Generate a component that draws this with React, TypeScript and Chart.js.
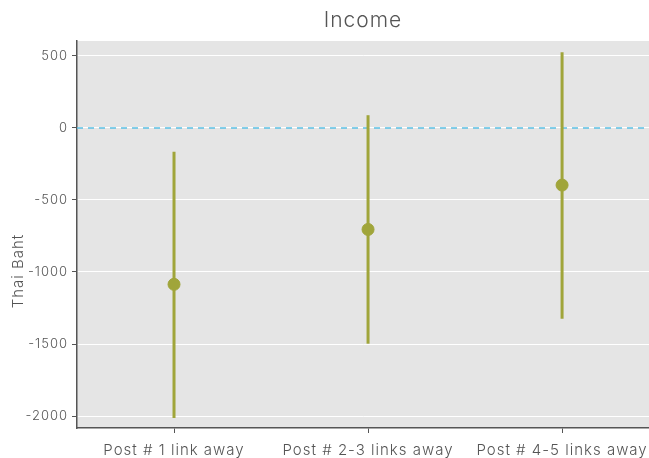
import React, { useEffect, useRef } from "react";
import { Chart, registerables } from "chart.js";

Chart.register(...registerables);

const categories = ["Post # 1 link away", "Post # 2-3 links away", "Post # 4-5 links away"];
const estimates = [-1086, -705, -397];
const lowerBounds = [-2013, -1498, -1325];
const upperBounds = [-166, 88, 525];
const yTicks = [500, 0, -500, -1000, -1500, -2000];
const yTitle = "Thai Baht";
const chartTitle = "Income";

const OLIVE = "#A0A53A";
const FONT = "Inter, 'Open Sans', sans-serif";
const TEXT = "#555555";

const panelBg = {
  id: "panelBg",
  beforeDraw(chart: any) {
    const { ctx, chartArea } = chart;
    (ctx as any).letterSpacing = "1px";
    ctx.save();
    ctx.fillStyle = "#E5E5E5";
    ctx.fillRect(chartArea.left, chartArea.top, chartArea.right - chartArea.left, chartArea.bottom - chartArea.top);
    ctx.restore();
  },
  afterDraw(chart: any) {
    const { ctx, chartArea } = chart;
    ctx.save();
    ctx.fillStyle = TEXT;
    ctx.font = `300 15px ${FONT}`;
    ctx.textAlign = "center";
    ctx.textBaseline = "middle";
    ctx.translate(18, chartArea.top + 230);
    ctx.rotate(-Math.PI / 2);
    ctx.fillText(yTitle, 0, 0);
    ctx.restore();
  },
};

export default function App() {
  const ref = useRef<HTMLCanvasElement>(null);
  useEffect(() => {
    document.body.style.margin = "0";
    const errorSets = categories.map((_, i) => ({
      type: "line" as const,
      data: [
        { x: i, y: lowerBounds[i] },
        { x: i, y: upperBounds[i] },
      ],
      borderColor: OLIVE,
      borderWidth: 3,
      pointRadius: 0,
      showLine: true,
      order: 2,
    }));
    const chart = new Chart(ref.current!, {
      type: "scatter",
      data: {
        datasets: [
          {
            type: "line",
            data: [
              { x: -0.5, y: 0 },
              { x: 2.448, y: 0 },
            ],
            borderColor: "#5BC0E3",
            borderWidth: 1.5,
            borderDash: [6, 5],
            pointRadius: 0,
            showLine: true,
            order: 3,
          } as any,
          ...errorSets,
          {
            data: estimates.map((v, i) => ({ x: i, y: v })),
            backgroundColor: OLIVE,
            borderColor: OLIVE,
            pointRadius: 6,
            order: 1,
          },
        ],
      },
      options: {
        animation: false,
        responsive: false,
        layout: { padding: 0, autoPadding: false },
        plugins: {
          legend: { display: false },
          tooltip: { enabled: false },
          title: { display: false },
        },
        scales: {
          x: {
            type: "linear",
            min: -0.5,
            max: 2.448,
            afterBuildTicks: (s: any) => {
              s.ticks = categories.map((_, i) => ({ value: i }));
            },
            afterFit: (s: any) => {
              s.height = 30;
              s.paddingLeft = 0;
              s.paddingRight = 0;
            },
            ticks: {
              callback: (v: any) => categories[v as number] ?? "",
              color: TEXT,
              font: { family: FONT, size: 15, weight: 300 },
              padding: 8,
              maxRotation: 0,
              autoSkip: false,
            },
            grid: { drawOnChartArea: false, tickColor: "#555", tickLength: 5 },
            border: { color: "#555", width: 1.5 },
          },
          xTop: {
            type: "linear",
            position: "top",
            min: -0.5,
            max: 2.448,
            afterFit: (s: any) => {
              s.height = 41;
              s.paddingLeft = 0;
              s.paddingRight = 0;
            },
            ticks: { display: false },
            grid: { display: false, drawTicks: false },
            border: { display: false },
            title: {
              display: true,
              text: chartTitle,
              color: TEXT,
              font: { family: FONT, size: 21, weight: 300 },
              padding: { top: 8, bottom: 6 },
            },
          },
          y: {
            min: -2083,
            max: 603,
            afterBuildTicks: (s: any) => {
              s.ticks = yTicks.map((v) => ({ value: v }));
            },
            afterFit: (s: any) => {
              s.width = 77;
            },
            ticks: {
              callback: (v: any) => String(v),
              color: TEXT,
              font: { family: FONT, size: 13, weight: 300 },
              padding: 4,
            },
            grid: { color: "#FFFFFF", lineWidth: 1, tickColor: "#555", tickLength: 5 },
            border: { color: "#555", width: 1.5 },
          },
        },
      },
      plugins: [panelBg],
    } as any);
    return () => chart.destroy();
  }, []);
  return (
    <div style={{ position: "absolute", left: 0, top: 0, width: 649, height: 458 }}>
      <canvas ref={ref} width={649} height={458} style={{ width: 649, height: 458 }} />
    </div>
  );
}
